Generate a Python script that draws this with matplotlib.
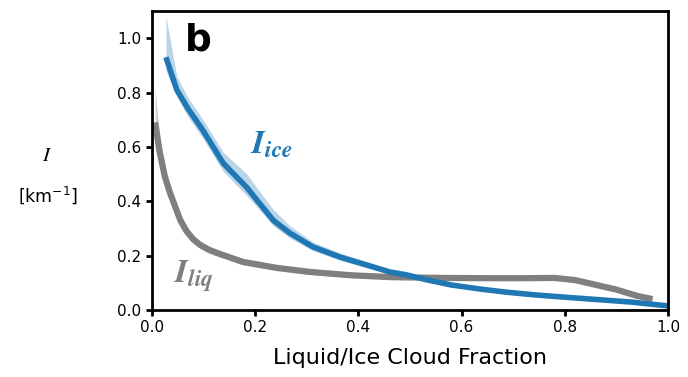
import numpy as np
import matplotlib
matplotlib.use('Agg')
import matplotlib.pyplot as plt

# cloud fraction vs inhomogeneity (ice, blue)
x_ice = [0.027, 0.048, 0.07, 0.099, 0.138, 0.184, 0.203, 0.235, 0.267, 0.312, 0.364, 0.417, 0.461,
         0.494, 0.53, 0.58, 0.64, 0.69, 0.74, 0.78, 0.83, 0.88, 0.93, 0.97, 1.0]
y_ice = [0.93, 0.81, 0.74, 0.66, 0.54, 0.45, 0.405, 0.33, 0.283, 0.232, 0.195, 0.165, 0.14,
         0.129, 0.112, 0.092, 0.076, 0.065, 0.056, 0.05, 0.043, 0.036, 0.029, 0.021, 0.015]
ice_lo = [0.88, 0.785, 0.71, 0.63, 0.51, 0.42, 0.38, 0.31, 0.265, 0.218, 0.183, 0.155, 0.132,
          0.121, 0.105, 0.086, 0.071, 0.060, 0.052, 0.046, 0.039, 0.032, 0.025, 0.017, 0.012]
ice_hi = [1.08, 0.86, 0.78, 0.70, 0.58, 0.50, 0.45, 0.37, 0.31, 0.25, 0.21, 0.177, 0.15,
          0.137, 0.119, 0.098, 0.081, 0.07, 0.06, 0.054, 0.047, 0.04, 0.033, 0.025, 0.018]

# liquid (gray)
x_liq = [0.006, 0.015, 0.025, 0.035, 0.045, 0.055, 0.067, 0.08, 0.093, 0.11, 0.126, 0.176, 0.242,
         0.306, 0.384, 0.461, 0.56, 0.65, 0.72, 0.78, 0.82, 0.85, 0.90, 0.94, 0.97]
y_liq = [0.69, 0.58, 0.49, 0.43, 0.38, 0.33, 0.29, 0.26, 0.24, 0.222, 0.21, 0.177, 0.155,
         0.14, 0.128, 0.121, 0.118, 0.117, 0.117, 0.118, 0.11, 0.097, 0.075, 0.052, 0.04]
liq_lo = [0.60, 0.52, 0.45, 0.40, 0.355, 0.31, 0.273, 0.245, 0.226, 0.209, 0.198, 0.166, 0.145,
          0.131, 0.12, 0.114, 0.112, 0.111, 0.111, 0.112, 0.104, 0.091, 0.069, 0.047, 0.036]
liq_hi = [0.81, 0.64, 0.53, 0.46, 0.405, 0.35, 0.305, 0.272, 0.252, 0.233, 0.22, 0.187, 0.164,
          0.148, 0.135, 0.127, 0.124, 0.123, 0.123, 0.124, 0.116, 0.103, 0.081, 0.057, 0.044]

fig = plt.figure(figsize=(6.88, 3.77), dpi=100)
ax = fig.add_axes([152/688, 1-310/377, 516/688, 299/377])

ax.fill_between(x_liq, liq_lo, liq_hi, color='#d0d0d0', lw=0)
ax.fill_between(x_ice, ice_lo, ice_hi, color='#1f77b4', alpha=0.3, lw=0)
ax.plot(x_liq, y_liq, color='#7f7f7f', lw=4.5, solid_capstyle='butt')
ax.plot(x_ice, y_ice, color='#1f77b4', lw=4, solid_capstyle='butt')

ax.set_xlim(0, 1.0)
ax.set_ylim(0, 1.1)
ax.set_xticks(np.arange(0, 1.01, 0.2))
ax.set_yticks(np.arange(0, 1.01, 0.2))
ax.tick_params(labelsize=11, width=2, length=4)
for s in ax.spines.values():
    s.set_linewidth(2)

ax.set_xlabel('Liquid/Ice Cloud Fraction', fontsize=16, labelpad=9)
fig.text(47/688, 1-155/377, r'$I$', fontsize=15, ha='center', va='center', math_fontfamily='stix')
fig.text(48/688, 1-195/377, r'[km$^{-1}$]', fontsize=12.5, ha='center', va='center')

ax.text(0.064, 0.96, 'b', transform=ax.transAxes, fontsize=27, fontweight='bold', va='top')
ax.text(0.19, 0.577, r'$\mathbfit{I}_{\mathbfit{ice}}$', color='#1f77b4', fontsize=24,
        math_fontfamily='stix')
ax.text(0.04, 0.10, r'$\mathbfit{I}_{\mathbfit{liq}}$', color='#7f7f7f', fontsize=24,
        math_fontfamily='stix')

fig.savefig('out.png', dpi=100)
